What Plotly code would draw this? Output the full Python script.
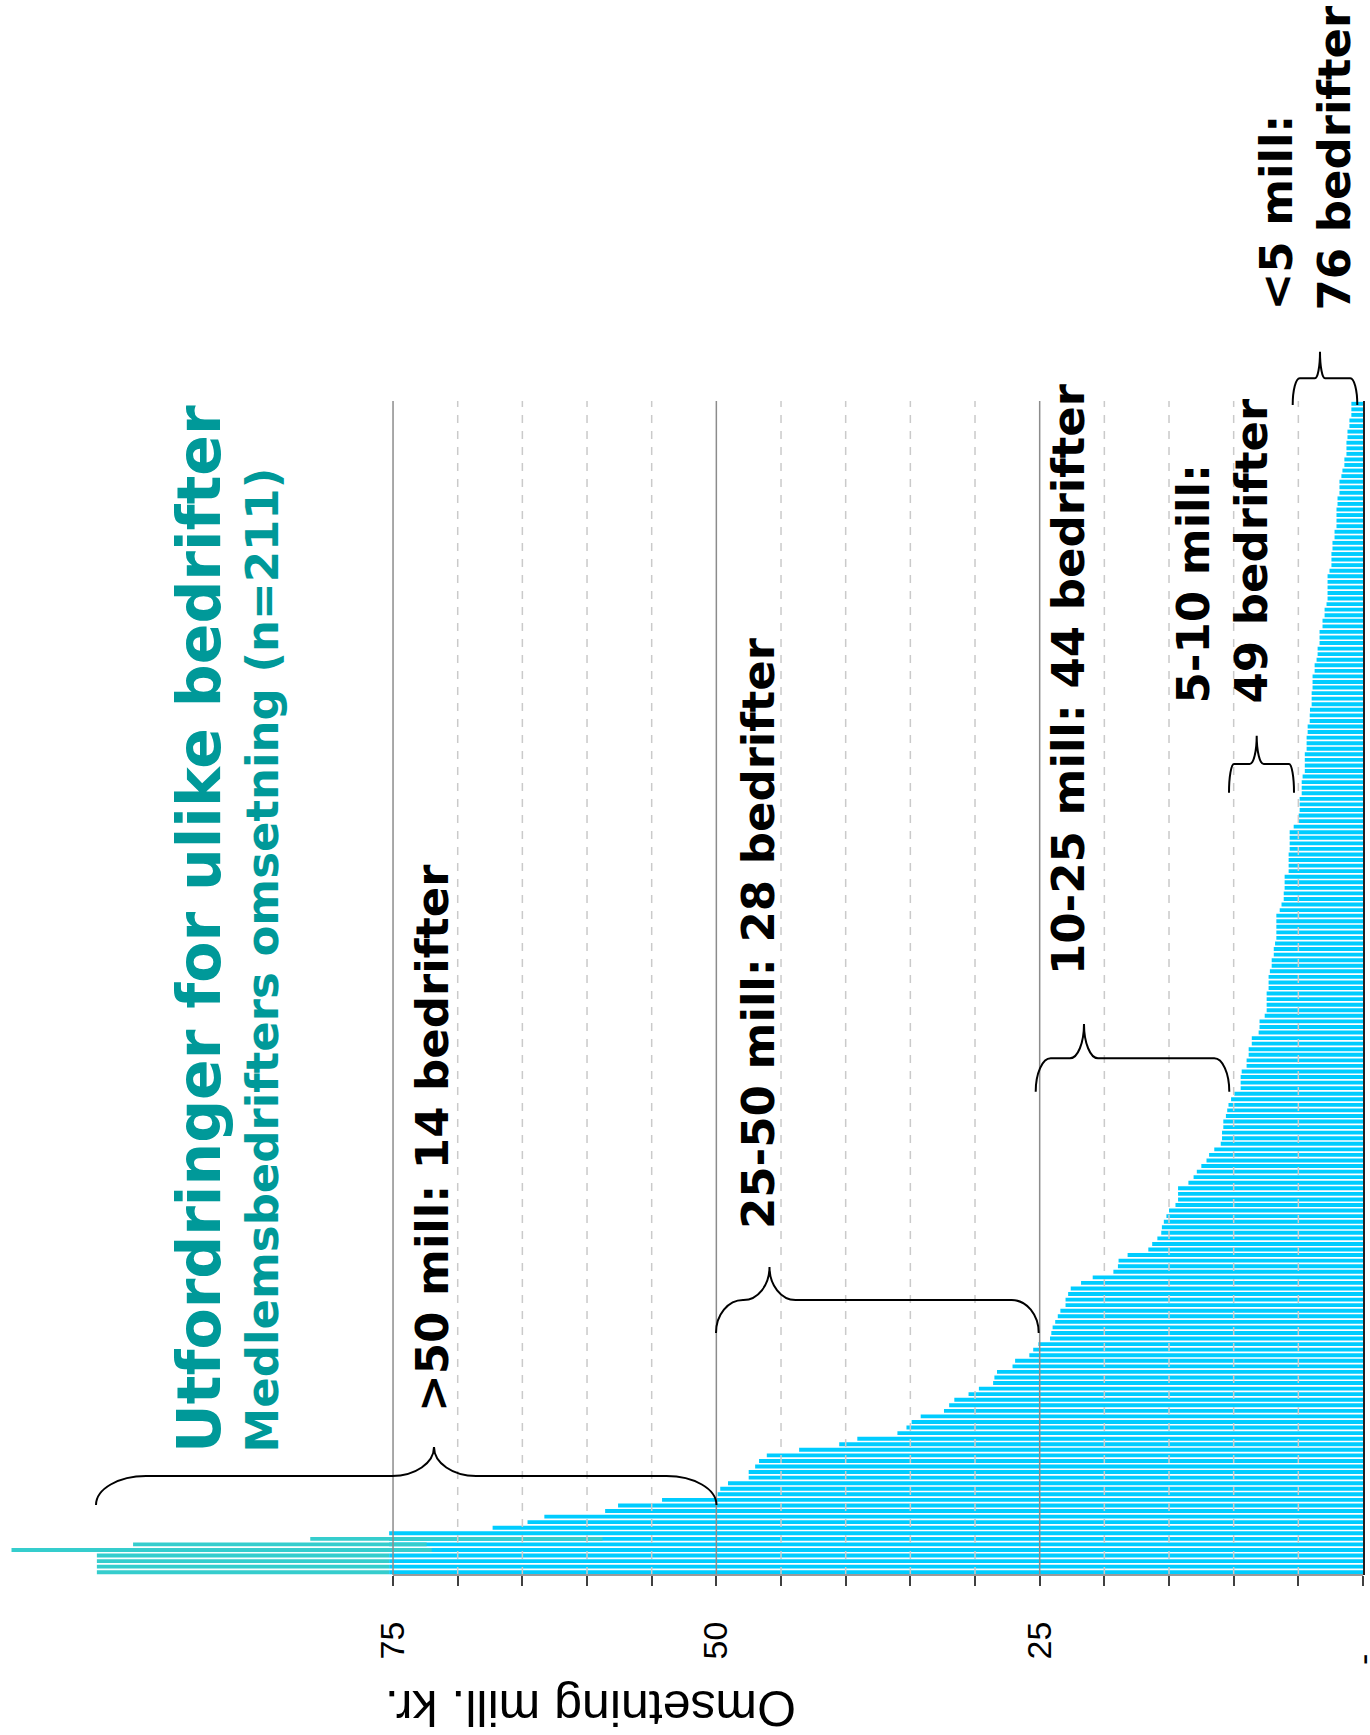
import plotly.graph_objects as go

# ---------------- data ----------------
omsetning = [
    75.3, 75.3, 75.3, 75.3, 75.3, 75.3, 75.3, 75.3, 67.3, 64.6,
    63.3, 58.6, 57.6, 54.2, 49.9, 49.7, 49.1, 47.5, 47.5, 47.0,
    46.7, 46.1, 43.6, 40.5, 39.1, 36.0, 35.3, 34.9, 34.2, 32.4,
    32.0, 31.6, 30.5, 29.7, 28.6, 28.5, 28.3, 27.1, 26.9, 25.8,
    25.5, 25.1, 24.2, 24.1, 24.0, 23.8, 23.6, 23.4, 23.0, 23.0,
    22.8, 22.6, 21.8, 20.9, 19.3, 18.95, 18.9, 18.2, 16.6, 16.3,
    15.9, 15.6, 15.55, 15.4, 15.2, 15.0, 14.5, 14.3, 14.3, 14.3,
    13.5, 13.1, 12.85, 12.5, 12.1, 11.9, 11.5, 11.0, 10.9, 10.9,
    10.8, 10.8, 10.6, 10.5, 10.4, 10.2, 9.95, 9.46, 9.46, 9.46,
    9.38, 9.0, 9.0, 8.84, 8.84, 8.6, 8.6, 8.07, 8.0, 8.0,
    7.6, 7.45, 7.45, 7.45, 7.45, 7.3, 7.3, 7.3, 7.2, 7.06,
    7.06, 6.9, 6.9, 6.8, 6.7, 6.7, 6.7, 6.7, 6.7, 6.44,
    6.3, 6.13, 6.13, 6.06, 6.06, 6.06, 5.75, 5.75, 5.75, 5.75,
    5.67, 5.67, 5.67, 5.67, 5.36, 4.97, 4.97, 4.9, 4.9, 4.9,
    4.74, 4.74, 4.74, 4.67, 4.5, 4.5, 4.5, 4.5, 4.36, 4.36,
    4.36, 4.28, 4.28, 4.12, 4.12, 4.1, 3.97, 3.97, 3.97, 3.9,
    3.9, 3.9, 3.74, 3.74, 3.59, 3.51, 3.51, 3.36, 3.36, 3.36,
    3.13, 3.13, 2.97, 2.97, 2.82, 2.74, 2.74, 2.74, 2.74, 2.74,
    2.59, 2.44, 2.44, 2.44, 2.36, 2.36, 2.2, 2.2, 2.05, 2.05,
    2.05, 2.05, 1.97, 1.97, 1.82, 1.82, 1.82, 1.67, 1.59, 1.44,
    1.44, 1.28, 1.28, 1.28, 1.2, 1.2, 1.05, 1.05, 0.9, 0.9,
    0.9,
]
bedrift_nr = list(range(1, len(omsetning) + 1))

# overlay bars for the largest companies (beyond the 75 axis)
storste_nr = [1, 2, 3, 4, 5, 6, 7]
storste_fra = [75.3, 75.3, 75.3, 75.3, 72.0, 72.4, 58.8]
storste_til = [97.9, 97.9, 97.9, 97.9, 104.5, 95.1, 81.4]

akse_verdier = list(range(0, 80, 5))
akse_tekst = [str(v) if v in (25, 50, 75) else "" for v in akse_verdier]
null_tekst = "-"
solide_linjer = [25, 50, 75]

tittel = "Utfordringer for ulike bedrifter"
undertittel = "Medlemsbedrifters omsetning (n=211)"
akse_tittel = "Omsetning mill. kr."
grupper = [
    "&gt;50 mill: 14 bedrifter",
    "25-50 mill: 28 bedrifter",
    "10-25 mill: 44 bedrifter",
    "5-10 mill:<br>49 bedrifter",
    "&lt;5 mill:<br>76 bedrifter",
]

# ---------------- geometry helpers ----------------
W, H = 1370, 1735
ML, MR, MT, MB = 0, 7, 401, 160
PW = W - ML - MR
PH = H - MT - MB
XMAX = 105.39


def px(x):
    return (x - ML) / PW


def py(y):
    return (H - MB - y) / PH


def brace(x1, x2, yE, yH, xt, yT, rx, rt):
    k = 0.552

    def P(x, y):
        return f"{px(x):.5f},{py(y):.5f}"
    d = f"M {P(x1, yE)} "
    d += f"C {P(x1, yE - k*(yE-yH))} {P(x1 + rx - k*rx, yH)} {P(x1 + rx, yH)} "
    d += f"L {P(xt - rt, yH)} "
    d += f"C {P(xt - rt + k*rt, yH)} {P(xt, yT + k*(yH-yT))} {P(xt, yT)} "
    d += f"C {P(xt, yT + k*(yH-yT))} {P(xt + rt - k*rt, yH)} {P(xt + rt, yH)} "
    d += f"L {P(x2 - rx, yH)} "
    d += f"C {P(x2 - rx + k*rx, yH)} {P(x2, yE - k*(yE-yH))} {P(x2, yE)}"
    return d


BLUE = "#00CCFF"
TEAL = "#35CDCD"
TITLE_C = "#009999"

fig = go.Figure()
fig.add_trace(go.Bar(
    y=bedrift_nr, x=omsetning, orientation="h",
    marker=dict(color=BLUE, line=dict(width=0)), showlegend=False,
))
fig.add_trace(go.Bar(
    y=storste_nr,
    x=[t - f for f, t in zip(storste_fra, storste_til)],
    base=storste_fra, orientation="h",
    marker=dict(color=TEAL, line=dict(width=0)), showlegend=False,
))

shapes = []
for v in akse_verdier[1:]:
    if v in solide_linjer:
        shapes.append(dict(type="line", xref="x", yref="paper", x0=v, x1=v, y0=0, y1=1,
                           line=dict(color="#8C8C8C", width=1.5), layer="above"))
    else:
        shapes.append(dict(type="line", xref="x", yref="paper", x0=v, x1=v, y0=0, y1=1,
                           line=dict(color="#CACACA", width=1.5, dash="8px,8px"), layer="above"))
# bottom axis line (0 .. 75)
shapes.append(dict(type="line", xref="x", yref="paper", x0=0, x1=75, y0=0, y1=0,
                   line=dict(color="#9A9A9A", width=2), layer="above"))

brace_specs = [
    (96, 716.5, 1505, 1476, 434, 1447, 50, 42),
    (716, 1038.7, 1333, 1300, 769.5, 1267, 27, 26),
    (1035.7, 1229.3, 1091.7, 1058.3, 1084, 1024, 15, 14),
    (1229, 1294, 792.7, 764, 1256.7, 735.7, 5, 7),
    (1292.7, 1357.3, 405, 378.3, 1320, 351.7, 7, 5),
]
for b in brace_specs:
    shapes.append(dict(type="path", xref="paper", yref="paper", path=brace(*b),
                       line=dict(color="black", width=2), layer="above"))

annotations = []
lab_font = dict(family="DejaVu Sans", size=45, color="black", weight="bold")
lab_pos = [(432, 1414), (758, 1231), (1068, 977), (1222, 706), (1306, 313)]
for txt, (x, y) in zip(grupper, lab_pos):
    annotations.append(dict(text=txt, x=px(x), y=py(y), xref="paper", yref="paper",
                            xanchor="center", yanchor="bottom", textangle=-90,
                            showarrow=False, align="left", font=lab_font))

annotations.append(dict(text=tittel, x=px(199), y=py(1455), xref="paper", yref="paper",
                        xanchor="center", yanchor="bottom", textangle=-90, showarrow=False,
                        font=dict(family="DejaVu Sans", size=60, color=TITLE_C, weight="bold")))
annotations.append(dict(text=undertittel, x=px(262), y=py(1455), xref="paper", yref="paper",
                        xanchor="center", yanchor="bottom", textangle=-90, showarrow=False,
                        font=dict(family="DejaVu Sans", size=45, color=TITLE_C, weight="bold")))
annotations.append(dict(text=akse_tittel, x=px(591), y=py(1708), xref="paper", yref="paper",
                        xanchor="center", yanchor="middle", textangle=180, showarrow=False,
                        font=dict(family="Liberation Sans", size=50, color="black")))
# zero label ("-") at the value-axis origin
annotations.append(dict(text=null_tekst, x=0, y=py(1660), xref="x", yref="paper",
                        xanchor="center", yanchor="middle", textangle=-90, showarrow=False,
                        font=dict(family="Liberation Sans", size=34, color="black")))

fig.update_layout(
    width=W, height=H,
    margin=dict(l=ML, r=MR, t=MT, b=MB, pad=0),
    paper_bgcolor="white", plot_bgcolor="white",
    barmode="overlay", bargap=0.3,
    shapes=shapes, annotations=annotations,
    xaxis=dict(range=[XMAX, 0], tickvals=akse_verdier, ticktext=akse_tekst,
               tickangle=-90, ticks="outside", ticklen=10, tickwidth=1.5, tickcolor="#404040",
               ticklabelstandoff=22, automargin=False,
               tickfont=dict(family="Liberation Sans", size=34, color="black"),
               showgrid=False, zeroline=False, showline=False),
    yaxis=dict(range=[0.5, len(omsetning) + 0.5], showticklabels=False, ticks="",
               showgrid=False, zeroline=False, showline=True, side="right",
               linecolor="#202020", linewidth=2, automargin=False),
)

fig.write_html("out.html")
